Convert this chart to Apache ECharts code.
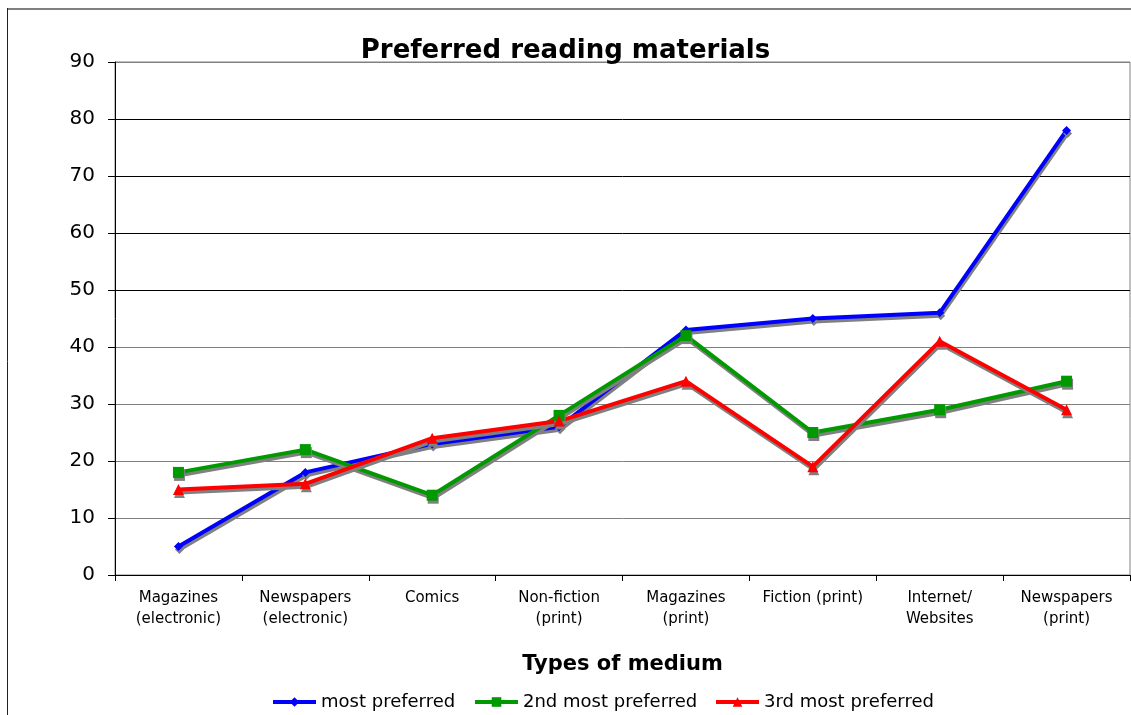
<!DOCTYPE html>
<html>
<head>
<meta charset="utf-8">
<script src="https://cdn.jsdelivr.net/npm/echarts@6/dist/echarts.min.js"></script>
<style>
  html, body { margin: 0; padding: 0; background: #fff; }
  #chart { width: 1131px; height: 715px; }
</style>
</head>
<body>
<div id="chart"></div>
<script>
// Reading-material categories (x axis)
const categories = [
  'Magazines\n(electronic)',
  'Newspapers\n(electronic)',
  'Comics',
  'Non-fiction\n(print)',
  'Magazines\n(print)',
  'Fiction (print)',
  'Internet/\nWebsites',
  'Newspapers\n(print)'
];

// Responses per preference rank
const mostPreferred   = [5, 18, 23, 26, 43, 45, 46, 78];
const secondPreferred = [18, 22, 14, 28, 42, 25, 29, 34];
const thirdPreferred  = [15, 16, 24, 27, 34, 19, 41, 29];

const seriesNames = ['most preferred', '2nd most preferred', '3rd most preferred'];

// Value axis range and gridline colours (lower lines grey, upper lines black)
const yMin = 0, yMax = 90, yStep = 10;
const gridColors = ['#808080', '#808080', '#808080', '#808080', '#808080',
                    '#000000', '#000000', '#000000', '#000000', '#808080'];

const FONT = '"DejaVu Sans", Verdana, sans-serif';

function lineSeries(name, data, color, symbol, size) {
  return {
    name: name,
    type: 'line',
    data: data,
    symbol: symbol,
    symbolSize: size,
    lineStyle: {
      color: color, width: 4,
      shadowColor: '#808080', shadowOffsetX: 1, shadowOffsetY: 3, shadowBlur: 0
    },
    itemStyle: {
      color: color,
      shadowColor: '#808080', shadowOffsetX: 1, shadowOffsetY: 3, shadowBlur: 0
    },
    emphasis: { disabled: true },
    animation: false
  };
}

// One legend key per series, laid out side by side along the bottom
const legendLefts = [271, 473, 714];
function legendKey(i) {
  return {
    left: legendLefts[i],
    top: 693,
    itemWidth: 43,
    itemHeight: 12,
    itemGap: 0,
    padding: 0,
    selectedMode: false,
    data: [seriesNames[i]],
    textStyle: { fontFamily: FONT, fontSize: 18, color: '#000' },
    lineStyle: { width: 4, shadowColor: 'transparent' },
    itemStyle: { shadowColor: 'transparent' }
  };
}

const chart = echarts.init(document.getElementById('chart'));
chart.setOption({
  backgroundColor: '#ffffff',
  animation: false,
  title: {
    text: 'Preferred reading materials',
    left: 'center',
    top: 33,
    textStyle: { fontFamily: FONT, fontWeight: 'bold', fontSize: 26, color: '#000' }
  },
  grid: {
    left: 115, right: 1, top: 62, bottom: 140,
    show: true, borderColor: '#808080', borderWidth: 1, backgroundColor: 'transparent'
  },
  legend: [legendKey(0), legendKey(1), legendKey(2)],
  xAxis: {
    type: 'category',
    data: categories,
    boundaryGap: true,
    name: 'Types of medium',
    nameLocation: 'middle',
    nameGap: 79,
    nameTextStyle: { fontFamily: FONT, fontWeight: 'bold', fontSize: 21, color: '#000' },
    axisLine: { lineStyle: { color: '#000', width: 1 } },
    axisTick: { show: true, alignWithLabel: false, length: 6, lineStyle: { color: '#000' } },
    axisLabel: {
      interval: 0, margin: 13,
      fontFamily: FONT, fontSize: 15, lineHeight: 21, color: '#000', align: 'center'
    },
    splitLine: { show: false }
  },
  yAxis: {
    type: 'value',
    min: yMin, max: yMax, interval: yStep,
    axisLine: { show: true, lineStyle: { color: '#000', width: 1 } },
    axisTick: { show: true, length: 7, lineStyle: { color: '#000' } },
    axisLabel: { margin: 20, fontFamily: FONT, fontSize: 20, color: '#000' },
    splitLine: { show: true, lineStyle: { color: gridColors, width: 1 } }
  },
  graphic: [
    { type: 'line', shape: { x1: 7, y1: 9, x2: 1131, y2: 9 },
      style: { stroke: '#808080', lineWidth: 2 }, silent: true },
    { type: 'line', shape: { x1: 7.5, y1: 8, x2: 7.5, y2: 715 },
      style: { stroke: '#222', lineWidth: 1 }, silent: true }
  ],
  series: [
    lineSeries(seriesNames[0], mostPreferred, '#0000ff', 'diamond', 9),
    lineSeries(seriesNames[1], secondPreferred, '#009900', 'rect', 11),
    lineSeries(seriesNames[2], thirdPreferred, '#ff0000', 'triangle', 11)
  ]
});
</script>
</body>
</html>
